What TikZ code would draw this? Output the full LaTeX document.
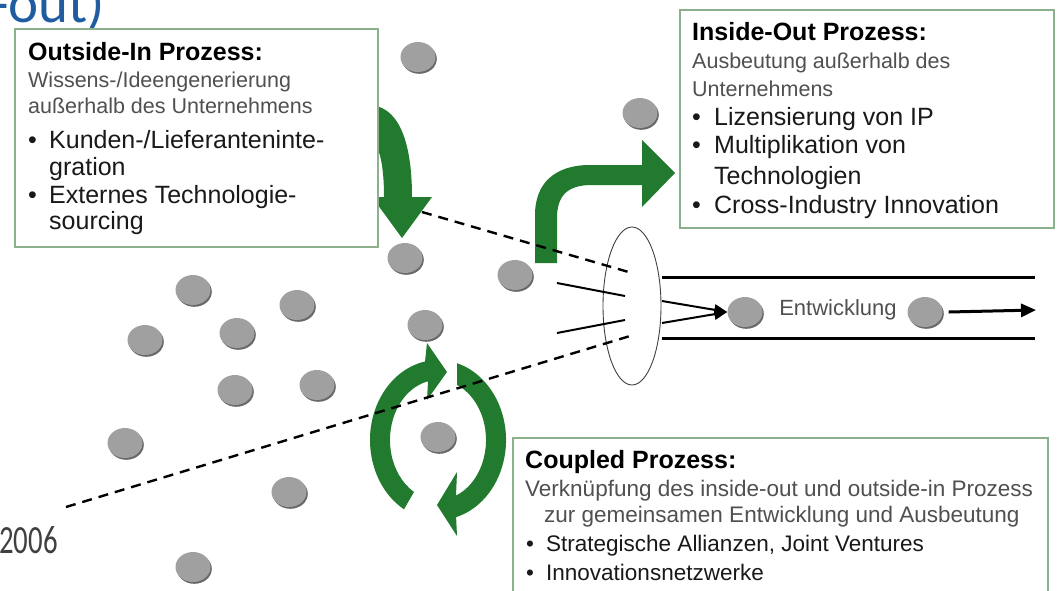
\documentclass[tikz,border=0pt]{standalone}
\usepackage{fontspec}
\setmainfont{Liberation Sans}
\newfontfamily\carlito{Carlito}
\usetikzlibrary{shapes.geometric,arrows.meta,shadows}
\definecolor{agreen}{RGB}{33,122,45}
\definecolor{boxc}{RGB}{140,176,140}
\definecolor{dotc}{RGB}{160,160,160}
\definecolor{dotsh}{RGB}{105,105,105}
\definecolor{descc}{RGB}{80,80,80}
\definecolor{bulc}{RGB}{25,25,25}
\definecolor{hblue}{RGB}{31,92,160}
\newcommand\bl[1]{\makebox[#1][l]{\textbullet}}
\begin{document}
\begin{tikzpicture}[x=1pt,y=-1pt,
  box/.style={draw=boxc, line width=1.3pt, fill=white},
  ttl/.style={anchor=base west, inner sep=0, font=\bfseries\fontsize{25}{30}\selectfont, text=black},
  dsc/.style={anchor=base west, inner sep=0, font=\fontsize{21.5}{26}\selectfont, text=descc},
  bul/.style={anchor=base west, inner sep=0, font=\fontsize{25}{30}\selectfont, text=bulc},
  cdsc/.style={dsc, font=\fontsize{22.5}{26}\selectfont},
  cbul/.style={bul, font=\fontsize{22.5}{26}\selectfont},
  gdot/.style={ellipse, minimum width=35pt, minimum height=30pt, inner sep=0, fill=dotc,
    general shadow={fill=dotsh, shadow xshift=1.3pt, shadow yshift=-1.8pt}},
  dashl/.style={line width=2.4pt, dash pattern=on 10pt off 7pt},
  solidl/.style={line width=2pt},
  chan/.style={line width=3pt},
  tipa/.style={-{Triangle[length=13pt,width=11pt]}}
]
\useasboundingbox (0,0) rectangle (1057,590);

% header fragments
\node[anchor=base west, inner sep=0, font=\carlito\fontsize{57}{64}\selectfont, text=hblue] (hdr) at (-9,22) {-out)};
\node[anchor=base west, inner sep=0, font=\carlito\fontsize{40}{44}\selectfont, text=black!75] (yr) at (-1,553) {\scalebox{0.72}[1]{2006}};

% grey dots
\foreach \n/\px/\py in {1/418/57, 2/640/113, 3/405/258, 4/515/275, 5/193/290, 6/297/305,
  7/237/333, 8/145/340, 9/425/325, 10/235/390, 11/317/385, 12/125/443, 13/438/437,
  14/289/492, 15/193/567}
  \node[gdot] (d\n) at (\px,\py) {};

% green arrows
\fill[agreen] (368,105) .. controls (398,105) and (412,140) .. (412,197) -- (432,197) -- (402,238) -- (372,197) -- (384,197) .. controls (384,160) and (378,140) .. (368,140) -- cycle;
\fill[agreen] (535,263) -- (535,215) .. controls (535,183) and (555,165) .. (590,165) -- (642,165) -- (642,140) -- (675,173) -- (642,207) -- (642,185) -- (592,185) .. controls (568,185) and (557,195) .. (557,218) -- (557,263) -- cycle;
\fill[agreen] (404,509.3) arc[start angle=120, end angle=259, x radius=68, y radius=80] -- (427,343) -- (447,372) -- (427,400) -- (428,381.3) arc[start angle=258, end angle=120, x radius=48, y radius=60] -- cycle;
\fill[agreen] (457,363.2) arc[start angle=-73.8, end angle=74.6, x radius=68, y radius=80] -- (457,536) -- (437,505) -- (457,472) -- (456,495.6) arc[start angle=68, end angle=-66.7, x radius=48, y radius=60] -- cycle;

% boxes
\draw[box] (15,29) rectangle (378,247);
\draw[box] (680,10) rectangle (1054,228);
\draw[box] (513,438) rectangle (1048,600);

% Outside-In text
\node[ttl] (o1) at (28,60) {Outside-In Prozess:};
\node[dsc] (o2) at (28,87) {Wissens-/Ideengenerierung};
\node[dsc] (o3) at (28,113) {außerhalb des Unternehmens};
\node[bul] (o4) at (28,148) {\bl{21pt}Kunden-/Lieferanteninte-};
\node[bul] (o5) at (49,175) {gration};
\node[bul] (o6) at (28,203) {\bl{21pt}Externes Technologie-};
\node[bul] (o7) at (49,229) {sourcing};

% Inside-Out text
\node[ttl] (i1) at (692,40) {Inside-Out Prozess:};
\node[dsc] (i2) at (692,68) {Ausbeutung außerhalb des};
\node[dsc] (i3) at (692,96) {Unternehmens};
\node[bul] (i4) at (692,125) {\bl{22pt}Lizensierung von IP};
\node[bul] (i5) at (692,153) {\bl{22pt}Multiplikation von};
\node[bul] (i6) at (714,184) {Technologien};
\node[bul] (i7) at (692,213) {\bl{22pt}Cross-Industry Innovation};

% Coupled text
\node[ttl] (c1) at (525,468) {Coupled Prozess:};
\node[cdsc] (c2) at (525,496) {Verknüpfung des inside-out und outside-in Prozess};
\node[cdsc] (c3) at (544,522) {zur gemeinsamen Entwicklung und Ausbeutung};
\node[cbul] (c4) at (526,551) {\bl{20pt}Strategische Allianzen, Joint Ventures};
\node[cbul] (c5) at (526,580) {\bl{20pt}Innovationsnetzwerke};

% funnel ellipse
\node[ellipse, draw=black!75, line width=0.9pt, fill=white, minimum width=58pt, minimum height=158pt, inner sep=0] (ell) at (632,306) {};

% development channel
\coordinate (t1) at (662,277); \coordinate (t2) at (1035,277);
\coordinate (b1) at (662,338); \coordinate (b2) at (1035,338);
\draw[chan] (t1) -- (t2);
\draw[chan] (b1) -- (b2);
\node[gdot] (d16) at (745,312) {};
\node[gdot] (d17) at (925,312) {};
\node[inner sep=0, font=\fontsize{22}{26}\selectfont, text=descc] (ent) at (838,310) {Entwicklung};

% lines into and out of funnel
\coordinate (s1a) at (557,283); \coordinate (s1b) at (625,296);
\coordinate (s2a) at (557,333); \coordinate (s2b) at (625,320);
\draw[solidl] (s1a) -- (s1b);
\draw[solidl] (s2a) -- (s2b);
\coordinate (e1) at (662,301); \coordinate (e2) at (662,323);
\draw[solidl, tipa] (e1) -- (d16.west);
\draw[solidl, tipa] (e2) -- (d16.west);
\coordinate (arend) at (1036,310);
\draw[chan, -{Triangle[length=15pt,width=13pt]}] ([xshift=6pt]d17.east) -- (arend);

% dashed boundaries
\coordinate (u1) at (422,212); \coordinate (u2) at (632,273);
\coordinate (l1) at (66,507); \coordinate (l2) at (630,336);
\draw[dashl] (u1) -- (u2);
\draw[dashl] (l1) -- (l2);
\end{tikzpicture}
\end{document}
